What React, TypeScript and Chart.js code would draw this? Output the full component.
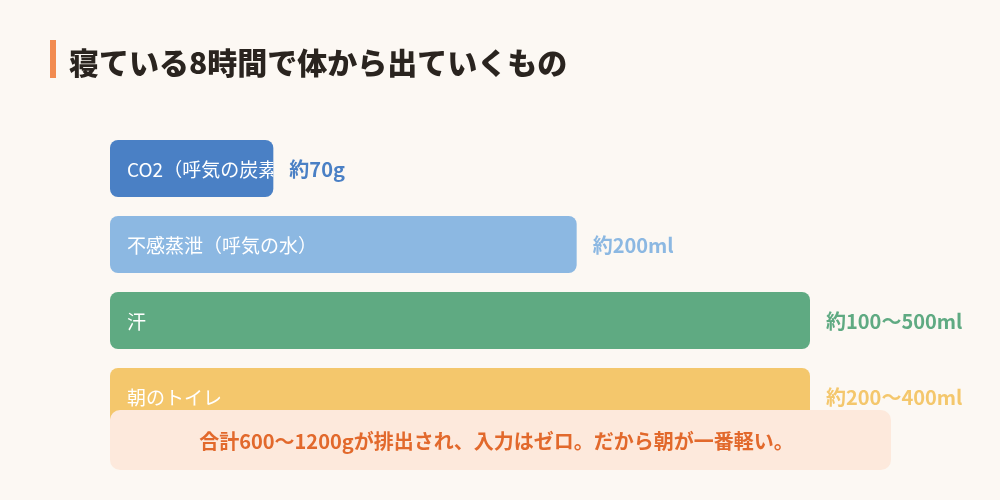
import React, { useEffect, useRef } from "react";
import { Chart, registerables } from "chart.js";

Chart.register(...registerables);

const titleText = "寝ている8時間で体から出ていくもの";
const categories = ["CO2（呼気の炭素）", "不感蒸泄（呼気の水）", "汗", "朝のトイレ"];
const values = [70, 200, 300, 300];
const valueLabels = ["約70g", "約200ml", "約100〜500ml", "約200〜400ml"];
const barColors = ["#4a80c5", "#8cb8e2", "#5faa82", "#f4c76c"];
const noteText = "合計600〜1200gが排出され、入力はゼロ。だから朝が一番軽い。";

const FONT = '"Noto Sans CJK JP", "Noto Sans", sans-serif';
const BG = "#fcf8f3";

function roundRect(ctx: CanvasRenderingContext2D, x: number, y: number, w: number, h: number, r: number) {
  ctx.beginPath();
  ctx.moveTo(x + r, y);
  ctx.lineTo(x + w - r, y);
  ctx.arcTo(x + w, y, x + w, y + r, r);
  ctx.lineTo(x + w, y + h - r);
  ctx.arcTo(x + w, y + h, x + w - r, y + h, r);
  ctx.lineTo(x + r, y + h);
  ctx.arcTo(x, y + h, x, y + h - r, r);
  ctx.lineTo(x, y + r);
  ctx.arcTo(x, y, x + r, y, r);
  ctx.closePath();
}

const overlayPlugin = {
  id: "overlay",
  beforeDraw(chart: any) {
    const ctx = chart.ctx as CanvasRenderingContext2D;
    ctx.save();
    ctx.fillStyle = BG;
    ctx.fillRect(0, 0, chart.width, chart.height);
    // title accent
    ctx.fillStyle = "#f28b50";
    ctx.fillRect(50, 40, 6, 38);
    ctx.fillStyle = "#2a241f";
    ctx.font = `900 30px ${FONT}`;
    ctx.textBaseline = "middle";
    ctx.textAlign = "left";
    ctx.fillText(titleText, 69, 63);
    ctx.restore();
  },
  afterDatasetsDraw(chart: any) {
    const ctx = chart.ctx as CanvasRenderingContext2D;
    const meta = chart.getDatasetMeta(0);
    ctx.save();
    meta.data.forEach((bar: any, i: number) => {
      const left = Math.min(bar.base, bar.x);
      const right = Math.max(bar.base, bar.x);
      const top = bar.y - bar.height / 2;
      // label inside bar, clipped
      ctx.save();
      ctx.beginPath();
      ctx.rect(left, top, right - left, bar.height);
      ctx.clip();
      ctx.fillStyle = "#ffffff";
      ctx.font = `19px ${FONT}`;
      ctx.textBaseline = "middle";
      ctx.textAlign = "left";
      ctx.fillText(categories[i], left + 17, bar.y + 1);
      ctx.restore();
      // value label
      ctx.fillStyle = barColors[i];
      ctx.font = `bold 20px ${FONT}`;
      ctx.textBaseline = "middle";
      ctx.textAlign = "left";
      ctx.fillText(valueLabels[i], right + 16, bar.y + 1);
    });
    // note box
    const xs = chart.scales.x;
    const bx = xs.left;
    const bw = 781;
    ctx.fillStyle = "#fde9dc";
    roundRect(ctx, bx, 410, bw, 60, 10);
    ctx.fill();
    ctx.fillStyle = "#e2692c";
    ctx.font = `bold 20px ${FONT}`;
    ctx.textAlign = "center";
    ctx.textBaseline = "middle";
    ctx.fillText(noteText, bx + bw / 2 - 4, 441);
    ctx.restore();
  },
};

export default function App() {
  const ref = useRef<HTMLCanvasElement>(null);
  useEffect(() => {
    document.body.style.margin = "0";
    document.body.style.background = BG;
    const chart = new Chart(ref.current!, {
      type: "bar",
      data: {
        labels: categories,
        datasets: [
          {
            data: values,
            backgroundColor: barColors,
            borderRadius: 8,
            borderSkipped: false,
            categoryPercentage: 1,
            barPercentage: 0.75,
          },
        ],
      },
      options: {
        indexAxis: "y",
        responsive: false,
        animation: false,
        devicePixelRatio: 1,
        layout: { padding: { left: 110, right: 50, top: 130.5, bottom: 65.5 } },
        scales: {
          x: { display: false, min: 0, max: 360 },
          y: { display: false },
        },
        plugins: {
          legend: { display: false },
          tooltip: { enabled: false },
          title: { display: false },
        },
      },
      plugins: [overlayPlugin],
    });
    return () => chart.destroy();
  }, []);
  return (
    <div style={{ position: "absolute", left: 0, top: 0, width: 1000, height: 500, background: BG }}>
      <canvas ref={ref} width={1000} height={500} style={{ width: 1000, height: 500, display: "block" }} />
    </div>
  );
}
